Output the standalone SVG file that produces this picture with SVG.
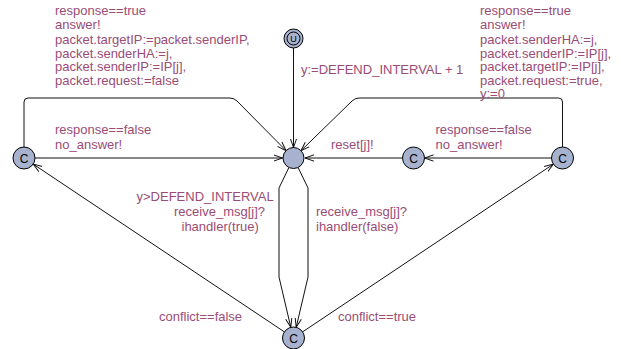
<svg xmlns="http://www.w3.org/2000/svg" width="623" height="349" viewBox="0 0 623 349">
<style>
.loc{fill:#a7b2cf;stroke:#000;stroke-width:1}
.edge{fill:none;stroke:#111;stroke-width:1}
.lbl{font-family:"Liberation Sans",Arial,sans-serif;font-size:13px;fill:#9a4c76}
.c{font-family:"Liberation Sans",Arial,sans-serif;font-size:12px;fill:#000;text-anchor:middle}
</style>
<defs>
<marker id="arr" viewBox="0 0 10 10" refX="10" refY="5" markerWidth="9" markerHeight="9" orient="auto" markerUnits="userSpaceOnUse">
<path d="M0,1.5 L10,5 L0,8.5" fill="none" stroke="#111" stroke-width="1.1"/>
</marker>
</defs>
<rect width="623" height="349" fill="#fff"/>
<g id="edges">
<path class="edge" marker-end="url(#arr)" d="M293.5,48 L293.5,147.5"/>
<path class="edge" marker-end="url(#arr)" d="M35,158 L282.5,158"/>
<path class="edge" marker-end="url(#arr)" d="M24,147 L24,102 Q24,98 28,98 L230,98 Q234,98 237,101 L286,150.6"/>
<path class="edge" marker-end="url(#arr)" d="M562.5,147 L562.5,102 Q562.5,98 558.5,98 L359,98 Q355,98 352,101 L301,150.7"/>
<path class="edge" marker-end="url(#arr)" d="M551.5,158 L424.5,158"/>
<path class="edge" marker-end="url(#arr)" d="M402,158 L305,158"/>
<path class="edge" marker-end="url(#arr)" d="M288.9,167.5 L279,188 L279,277 L290.8,327.3"/>
<path class="edge" marker-end="url(#arr)" d="M298.1,167.5 L308,188 L308,277 L296.2,327.3"/>
<path class="edge" marker-end="url(#arr)" d="M284.4,331.9 L33.2,164.1"/>
<path class="edge" marker-end="url(#arr)" d="M302.6,331.9 L553.4,164.1"/>
</g>
<g id="labels">
<text class="lbl" x="55" y="15">response==true</text>
<text class="lbl" x="55" y="29">answer!</text>
<text class="lbl" x="55" y="44">packet.targetIP:=packet.senderIP,</text>
<text class="lbl" x="55" y="57.5">packet.senderHA:=j,</text>
<text class="lbl" x="55" y="71">packet.senderIP:=IP[j],</text>
<text class="lbl" x="55" y="84.5">packet.request:=false</text>
<text class="lbl" x="480" y="15">response==true</text>
<text class="lbl" x="480" y="29">answer!</text>
<text class="lbl" x="480" y="44">packet.senderHA:=j,</text>
<text class="lbl" x="480" y="57.5">packet.senderIP:=IP[j],</text>
<text class="lbl" x="480" y="71">packet.targetIP:=IP[j],</text>
<text class="lbl" x="480" y="84.5">packet.request:=true,</text>
<text class="lbl" x="480" y="98">y:=0</text>
<text class="lbl" x="301" y="74">y:=DEFEND_INTERVAL + 1</text>
<text class="lbl" x="55" y="134">response==false</text>
<text class="lbl" x="55" y="148.5">no_answer!</text>
<text class="lbl" x="435.5" y="134">response==false</text>
<text class="lbl" x="435.5" y="148.5">no_answer!</text>
<text class="lbl" x="331" y="148.5">reset[j]!</text>
<text class="lbl" x="136.5" y="201">y&gt;DEFEND_INTERVAL</text>
<text class="lbl" x="174" y="216">receive_msg[j]?</text>
<text class="lbl" x="181.5" y="230.5">ihandler(true)</text>
<text class="lbl" x="316" y="216">receive_msg[j]?</text>
<text class="lbl" x="316" y="230.5">ihandler(false)</text>
<text class="lbl" x="159" y="321">conflict==false</text>
<text class="lbl" x="338" y="321">conflict==true</text>
</g>
<g id="init">
<circle class="loc" cx="293.5" cy="38.5" r="9.5"/>
<circle class="loc" cx="293.5" cy="38.5" r="6.5"/>
<text class="c" x="293.5" y="42" style="font-size:9px">U</text>
</g>
<g id="center">
<circle class="loc" cx="293.5" cy="158" r="10.5"/>
</g>
<g id="left">
<circle class="loc" cx="24" cy="158" r="11"/>
<text class="c" x="24" y="162.5">C</text>
</g>
<g id="reset">
<circle class="loc" cx="413.5" cy="158" r="11"/>
<text class="c" x="413.5" y="162.5">C</text>
</g>
<g id="right">
<circle class="loc" cx="562.5" cy="158" r="11"/>
<text class="c" x="562.5" y="162.5">C</text>
</g>
<g id="bottom">
<circle class="loc" cx="293.5" cy="338" r="11"/>
<text class="c" x="293.5" y="342.5">C</text>
</g>
</svg>
